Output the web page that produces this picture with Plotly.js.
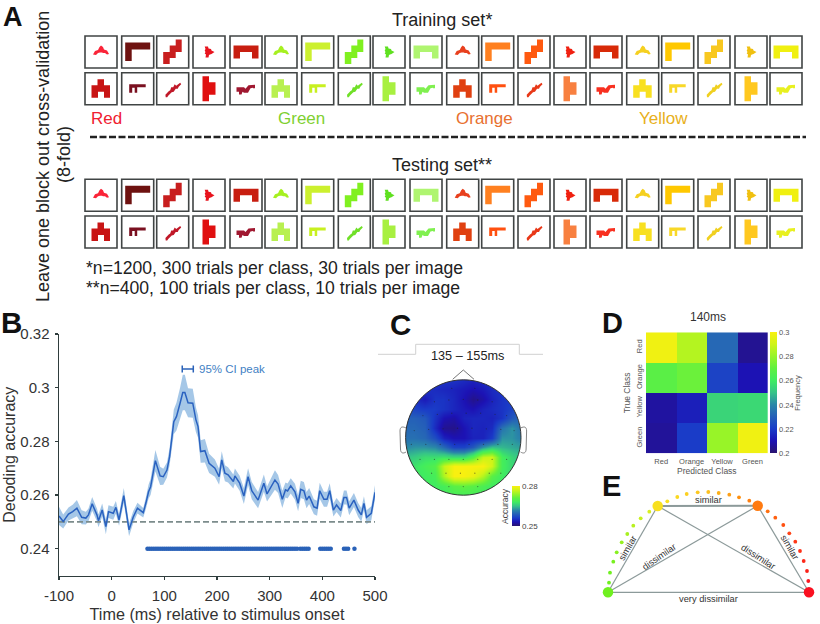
<!DOCTYPE html>
<html>
<head>
<meta charset="utf-8">
<script src="https://cdn.plot.ly/plotly-3.0.1.min.js"></script>
<style>
html, body { margin: 0; padding: 0; background: white; }
#chart { width: 820px; height: 624px; }
</style>
</head>
<body>
<div id="chart"></div>
<script>
// Panel B - decoding accuracy over time
const timeMs = [-100,-92,-82,-74,-66,-57,-49,-44,-37,-28,-25,-18,-11,-6,3,8,14,23,33,41,49,60,65,70,74,83,92,98,105,110,
    118,123,130,135,139,145,154,160,164,169,177,185,196,204,209,215,221,231,234,243,251,259,266,278,289,295,310,316,324,330,
    334,340,348,354,359,365,370,375,384,390,395,403,409,414,421,427,435,441,446,451,460,468,474,479,484,493,500];
const accuracy = [.2522,.2501,.2529,.2538,.2551,.2517,.2514,.2526,.2567,.2526,.2504,.2544,.2482,.2538,.2532,.2554,.2507,.2598,.2470,.2518,
    .2551,.2534,.2570,.2612,.2631,.2728,.2671,.2668,.2693,.2743,.2873,.2892,.2943,.2982,.2982,.2944,.2942,.2880,.2855,.2762,
    .2765,.2718,.2700,.2668,.2731,.2681,.2675,.2650,.2671,.2644,.2596,.2668,.2616,.2581,.2644,.2604,.2656,.2641,.2584,.2619,
    .2615,.2634,.2612,.2569,.2621,.2616,.2581,.2596,.2556,.2551,.2616,.2584,.2584,.2616,.2544,.2563,.2542,.2591,.2591,.2551,
    .2581,.2544,.2526,.2569,.2517,.2532,.2610];
const accuracyHalfWidth = [.0034,.0026,.0024,.0026,.0030,.0026,.0024,.0024,.0026,.0024,.0024,.0024,.0028,.0024,.0024,.0024,.0022,.0028,.0024,.0022,
    .0020,.0018,.0022,.0026,.0030,.0040,.0034,.0030,.0028,.0032,.0046,.0052,.0058,.0066,.0066,.0054,.0054,.0046,.0042,.0042,
    .0044,.0036,.0032,.0030,.0032,.0030,.0028,.0026,.0028,.0028,.0030,.0032,.0032,.0030,.0032,.0028,.0036,.0034,.0032,.0028,
    .0028,.0028,.0030,.0030,.0032,.0032,.0030,.0030,.0028,.0028,.0030,.0028,.0028,.0028,.0024,.0026,.0026,.0026,.0026,.0026,
    .0026,.0026,.0026,.0026,.0026,.0026,.0026];
const significantMs = [68,72,76,80,84,88,92,96,100,104,108,112,116,120,124,128,132,136,140,144,148,152,156,160,164,168,172,176,180,184,
    188,192,196,200,204,208,212,216,220,224,228,232,236,240,244,248,252,256,260,264,268,272,276,280,284,288,292,296,300,304,
    308,312,316,320,324,328,332,336,340,344,348,352,358,362,366,370,374,396,400,404,408,412,416,441,445,449,461];
const peakCiMs = [134, 155];

// Panel C - scalp map, rows from front of head to back
const topoAxis = [-1,-0.833,-0.667,-0.5,-0.333,-0.167,0,0.167,0.333,0.5,0.667,0.833,1];
const topoAccuracy = [
    [.2560,.2560,.2560,.2560,.2554,.2554,.2548,.2542,.2548,.2554,.2560,.2560,.2560],
    [.2560,.2554,.2554,.2548,.2545,.2542,.2536,.2530,.2536,.2548,.2554,.2560,.2560],
    [.2560,.2548,.2536,.2554,.2554,.2545,.2530,.2512,.2524,.2542,.2554,.2560,.2566],
    [.2575,.2566,.2560,.2560,.2554,.2545,.2536,.2530,.2542,.2548,.2554,.2566,.2584],
    [.2590,.2590,.2584,.2554,.2530,.2524,.2542,.2545,.2545,.2542,.2554,.2584,.2596],
    [.2596,.2596,.2590,.2548,.2515,.2512,.2530,.2545,.2542,.2548,.2605,.2626,.2605],
    [.2602,.2602,.2596,.2575,.2542,.2530,.2530,.2542,.2542,.2560,.2626,.2626,.2614],
    [.2620,.2626,.2626,.2620,.2596,.2566,.2566,.2584,.2626,.2650,.2644,.2638,.2632],
    [.2650,.2656,.2668,.2668,.2674,.2668,.2668,.2700,.2764,.2770,.2686,.2662,.2650],
    [.2665,.2674,.2686,.2698,.2764,.2800,.2800,.2800,.2800,.2770,.2686,.2665,.2656],
    [.2665,.2674,.2680,.2686,.2752,.2800,.2800,.2790,.2755,.2704,.2680,.2665,.2656],
    [.2665,.2674,.2680,.2680,.2686,.2704,.2710,.2704,.2692,.2680,.2674,.2665,.2656],
    [.2665,.2674,.2680,.2680,.2680,.2686,.2686,.2686,.2680,.2674,.2665,.2656,.2656]
];
const electrodeX = [-0.2,0.2,-0.5,-0.25,0,0.25,0.5,-0.7,-0.45,-0.2,0.05,0.3,0.55,0.75,-0.85,-0.6,-0.35,-0.1,0.15,0.4,0.65,0.88,
    -0.9,-0.65,-0.4,-0.15,0.1,0.35,0.6,0.85,-0.75,-0.5,-0.25,0,0.25,0.5,0.75,-0.55,-0.3,-0.05,0.2,0.45,0.65,-0.25,0,0.25];
const electrodeY = [0.85,0.85,0.62,0.65,0.66,0.65,0.62,0.38,0.4,0.42,0.42,0.42,0.4,0.38,0.12,0.14,0.15,0.16,0.16,0.15,0.14,0.12,
    -0.12,-0.12,-0.12,-0.12,-0.12,-0.12,-0.12,-0.12,-0.38,-0.38,-0.38,-0.38,-0.38,-0.38,-0.38,-0.62,-0.62,-0.62,-0.62,-0.62,-0.62,-0.85,-0.85,-0.85];

// Panel D - confusion matrix at 140 ms
const classNames = ['Red', 'Orange', 'Yellow', 'Green'];
const confusion = [
    [.298, .285, .232, .205],
    [.268, .272, .222, .210],
    [.207, .213, .254, .255],
    [.206, .220, .280, .298]
];

// Panel A - stimuli, colours listed box by box
const topRowColors = ['#fa2438','#6e1210','#c81e1e','#e8141e','#c81e10','#a6f020','#ccf02e','#80f020','#5fe020','#aff570',
    '#e8401e','#ff8020','#ff5a10','#f02010','#d82a08','#f5d020','#ffc800','#f8c820','#f0c010','#f0f010'];
const bottomRowColors = ['#c81414','#7a1020','#c01828','#e01010','#a01830','#b8f050','#c8f020','#70e028','#a8f040','#80f050',
    '#e04010','#ff5010','#e83818','#f88040','#f83020','#f8e020','#f8d828','#f0d020','#ffc820','#e8f020'];
const boxLeft = [85,121.7,156.7,193,230,265,301.7,338.3,373,410,446.7,481.7,518,554,590,626.7,661.7,698,735,770];
const topGlyphs = [
    [[8,18.5],[10,15],[13,14],[14.5,11],[16,9.5],[18,11],[19,13.5],[22,14.5],[24,18],[22,18.5],[20,17],[18,17],[17,16.5],[15,16.5],[13,17],[11,19]],
    [[3.5,6.5],[28.5,6.5],[28.5,13.5],[10,13.5],[10,25],[3.5,25]],
    [[19,3.5],[25,3.5],[25,16],[19,16],[19,22],[13,22],[13,28],[6.5,28],[6.5,16],[13,16],[13,9.5],[19,9.5]],
    [[11.7,10.5],[15,10.5],[15.5,12.5],[18,13],[18.5,14.5],[21.5,16],[18.5,18],[17,18.5],[16,19],[15.5,21.5],[12.5,21.5],[13,18.5],[11.7,17.5],[12.5,16],[11.7,14.5],[12.5,13]],
    [[3.5,9.5],[28.5,9.5],[28.5,22.5],[22,22.5],[22,16],[10,16],[10,22.5],[3.5,22.5]]
];
const bottomGlyphs = [
    [[12.5,6.5],[19,6.5],[19,12.5],[25,12.5],[25,25],[19,25],[19,19],[13,19],[13,25],[6.5,25],[6.5,12.5],[12.5,12.5]],
    [[7.5,11.5],[24,11.5],[24,14.5],[15.5,14.5],[15.5,20],[13,20],[13,15],[10.5,15],[10.5,20],[7.5,20]],
    [[8.7,22],[12,18.5],[13.5,17.5],[14.5,14.5],[16.5,14.5],[18,11.5],[19.5,13],[23.5,10],[24.5,11.5],[22,14],[21,16],[19,16],[17,19],[15,19.5],[11.5,23],[10.5,24.5],[9,24.5]],
    [[9.5,3.5],[16,3.5],[16,9.5],[22.5,9.5],[22.5,22],[16,22],[16,28.5],[9.5,28.5]],
    [[6.5,14.5],[14,14.5],[15.5,16],[18.5,12.5],[25,12],[25,15.5],[23,15.5],[23,15],[20.5,15.5],[18,20],[14,20],[12.5,19],[11.5,21.8],[9,21.8],[9,19],[6.5,19]]
];

// Panel E - schematic nodes and dotted arc, page pixels
const nodeX = [608, 657.7, 757.7, 809];
const nodeY = [592.3, 506, 505.7, 592.3];
const nodeColors = ['#70f020', '#f8e020', '#ff7a10', '#fa1020'];
const arcX = [609,610,613.3,616.7,621.7,627.3,633.3,640.7,649.3,667.3,677.3,686.7,697.7,708.3,718.7,729.3,739,749.3,
    767.7,775.3,783.3,789.3,795.3,800,803.7,807,808.3];
const arcY = [582.7,572.7,561.7,552.3,542.3,534,525.7,518.3,511.7,501.3,497,494,492.3,492,493,494.7,497.3,500.7,
    511.3,517.7,525,533.3,541.7,551,561,571,581];
const arcColors = ['#70f020','#70f020','#78f020','#88f020','#98f020','#a8f020','#b8f020','#c8f020','#d8f020','#f8e020','#fad820','#fcd020','#fcc820','#fcc020','#fdb018','#fda018','#fe9010','#ff8010',
    '#ff7010','#ff6010','#ff5010','#ff4418','#ff3818','#fe3018','#fc2818','#fa2018','#fa1820'];

// Layout helpers - everything outside the data axes is placed in page pixels
const W = 820, H = 624;
const FONT = '"Liberation Sans", Arial, sans-serif';
function px(x) { return x / W; }
function py(y) { return 1 - y / H; }

function label(text, x, y, size, color, angle, weight) {
    let t = text;
    if (weight) t = '<b>' + text + '</b>';
    return {
        text: t, xref: 'paper', yref: 'paper', x: px(x), y: py(y),
        xanchor: 'center', yanchor: 'middle', showarrow: false,
        textangle: angle || 0,
        font: { family: FONT, size: size, color: color || '#222' }
    };
}

function polyPath(points, dx, dy) {
    return 'M' + points.map(p => (p[0] + dx) + ',' + (p[1] + dy)).join('L') + 'Z';
}

function circlePath(cx, cy, r) {
    const k = 0.5523 * r;
    return `M${cx - r},${cy} C${cx - r},${cy + k} ${cx - k},${cy + r} ${cx},${cy + r} ` +
        `C${cx + k},${cy + r} ${cx + r},${cy + k} ${cx + r},${cy} ` +
        `C${cx + r},${cy - k} ${cx + k},${cy - r} ${cx},${cy - r} ` +
        `C${cx - k},${cy - r} ${cx - r},${cy - k} ${cx - r},${cy} Z`;
}

function pagePath(path, color, width) {
    return { type: 'path', xref: 'x4', yref: 'y4', path: path, line: { color: color, width: width }, layer: 'above' };
}

function stimulusShapes(topY, bottomY) {
    const shapes = [];
    boxLeft.forEach((left, i) => {
        [topY, bottomY].forEach((boxTop, row) => {
            const glyphs = row === 0 ? topGlyphs : bottomGlyphs;
            const colors = row === 0 ? topRowColors : bottomRowColors;
            shapes.push({
                type: 'rect', xref: 'x4', yref: 'y4', x0: left, x1: left + 32, y0: boxTop, y1: boxTop + 32,
                line: { color: '#404444', width: 1.6 }, layer: 'above'
            });
            shapes.push({
                type: 'path', xref: 'x4', yref: 'y4', path: polyPath(glyphs[i % 5], left, boxTop),
                fillcolor: colors[i], line: { width: 0 }, layer: 'above'
            });
        });
    });
    return shapes;
}

const parula = [
    [0, '#2a1470'], [0.1, '#1c12b4'], [0.2, '#1a3cc8'], [0.3, '#2560b8'], [0.4, '#2a88a8'],
    [0.5, '#36c488'], [0.6, '#40ec60'], [0.7, '#60f040'], [0.8, '#98f428'], [0.9, '#d0f418'], [1, '#f8f010']
];

// Traces
const upper = accuracy.map((a, i) => a + accuracyHalfWidth[i]);
const lower = accuracy.map((a, i) => a - accuracyHalfWidth[i]);

const traces = [
    {
        x: timeMs.concat(timeMs.slice().reverse()),
        y: upper.concat(lower.slice().reverse()),
        type: 'scatter', mode: 'lines', fill: 'toself',
        fillcolor: 'rgba(66,138,204,0.48)', line: { width: 0 }, hoverinfo: 'skip', showlegend: false
    },
    {
        x: [-100, 500], y: [0.25, 0.25], type: 'scatter', mode: 'lines',
        line: { color: '#7c8c8c', width: 1.6, dash: '6px,3px' }, showlegend: false
    },
    {
        x: timeMs, y: accuracy, type: 'scatter', mode: 'lines',
        line: { color: '#2a62c0', width: 1.5 }, showlegend: false
    },
    {
        x: significantMs, y: significantMs.map(() => 0.24), type: 'scatter', mode: 'markers',
        marker: { color: '#2a62b8', size: 4.5 }, showlegend: false
    },
    {
        x: peakCiMs, y: [0.307, 0.307], type: 'scatter', mode: 'lines+markers',
        line: { color: '#2a62b8', width: 1.5 },
        marker: { symbol: 'line-ns', size: 5, line: { color: '#2a62b8', width: 1.5 } }, showlegend: false
    },
    {
        x: topoAxis, y: topoAxis.slice().reverse(), z: topoAccuracy, type: 'heatmap', xaxis: 'x2', yaxis: 'y2',
        zsmooth: 'best', zmin: 0.25, zmax: 0.28, colorscale: parula,
        colorbar: {
            x: px(511.7), xanchor: 'left', y: py(525.7), yanchor: 'bottom',
            len: 39.7, lenmode: 'pixels', thickness: 8.3, thicknessmode: 'pixels', xpad: 0, ypad: 0,
            outlinewidth: 0, ticks: '', tickvals: [0.25, 0.28], ticktext: ['0.25', '0.28'],
            tickfont: { family: FONT, size: 8, color: '#444' }
        }
    },
    {
        x: electrodeX, y: electrodeY, type: 'scatter', mode: 'markers', xaxis: 'x2', yaxis: 'y2',
        marker: { color: '#222', size: 1.3, opacity: 0.5 }, showlegend: false
    },
    {
        x: classNames, y: classNames, z: confusion, type: 'heatmap', xaxis: 'x3', yaxis: 'y3',
        zmin: 0.2, zmax: 0.3, colorscale: parula, xgap: 0, ygap: 0,
        colorbar: {
            x: px(770.3), xanchor: 'left', y: py(453.3), yanchor: 'bottom',
            len: 121, lenmode: 'pixels', thickness: 6.5, thicknessmode: 'pixels', xpad: 0, ypad: 0,
            outlinewidth: 0, ticks: '', tickvals: [0.2, 0.22, 0.24, 0.26, 0.28, 0.3],
            tickfont: { family: FONT, size: 7.5, color: '#555' }
        }
    }
];

// Panel E edges
const edges = [[0, 1, 1.2], [0, 2, 1.2], [0, 3, 1.2], [1, 2, 2], [1, 3, 1.2], [2, 3, 1.2]];
edges.forEach(e => {
    traces.push({
        x: [nodeX[e[0]], nodeX[e[1]]], y: [nodeY[e[0]], nodeY[e[1]]], type: 'scatter', mode: 'lines',
        xaxis: 'x4', yaxis: 'y4', line: { color: '#8c9a9a', width: e[2] }, showlegend: false
    });
});
traces.push({
    x: arcX, y: arcY, type: 'scatter', mode: 'markers', xaxis: 'x4', yaxis: 'y4',
    marker: { color: arcColors, size: 3.8 }, showlegend: false
});
traces.push({
    x: nodeX, y: nodeY, type: 'scatter', mode: 'markers', xaxis: 'x4', yaxis: 'y4',
    marker: { color: nodeColors, size: 10.5 }, showlegend: false
});

// Shapes
let shapes = stimulusShapes(36, 72.7).concat(stimulusShapes(179.3, 216));

shapes.push({
    type: 'line', xref: 'x4', yref: 'y4', x0: 90, x1: 806, y0: 137, y1: 137,
    line: { color: '#222', width: 2.4, dash: '7px,2.5px' }, layer: 'above'
});

// head outline: white mask outside the circle, then the rim, nose and ears
shapes.push({
    type: 'path', xref: 'x2', yref: 'y2',
    path: 'M-1.1,-1.1 L1.1,-1.1 L1.1,1.1 L-1.1,1.1 Z ' + circlePath(0, 0, 1),
    fillcolor: 'white', fillrule: 'evenodd', line: { width: 0 }, layer: 'above'
});
shapes.push({
    type: 'path', xref: 'x2', yref: 'y2', path: circlePath(0, 0, 1),
    line: { color: '#333', width: 1 }, layer: 'above'
});
shapes.push(pagePath('M452.7,379.3 L463.3,370 L474,379.3', '#666', 0.9));
shapes.push(pagePath('M406,428 C402,426 400,427 400,431 L400.5,449 C400.5,453 403,454 406,452', '#777', 0.9));
shapes.push(pagePath('M520.6,428 C524.6,426 526.6,427 526.6,431 L526.1,449 C526.1,453 523.6,454 520.6,452', '#777', 0.9));
shapes.push(pagePath('M378,354.3 L415.7,354.3 L415.7,344.3 L519.3,344.3 L519.3,354.3 L543,354.3', '#d0d0d0', 1));

// Text
const annotations = [
    label('A', 13, 16.5, 27, '#111', 0, true),
    label('B', 11, 322, 29.5, '#111', 0, true),
    label('C', 400, 324, 29.5, '#111', 0, true),
    label('D', 612, 323, 29, '#111', 0, true),
    label('E', 611, 486, 29, '#111', 0, true),
    label('Training set*', 442, 20, 18, '#222'),
    label('Testing set**', 442, 165, 18, '#222'),
    label('Red', 106, 118, 17, '#f02030'),
    label('Green', 301.7, 118, 17, '#80d030'),
    label('Orange', 484, 118, 17, '#e87030'),
    label('Yellow', 663, 118, 17, '#e8b020'),
    label('Leave one block out cross-validation', 43, 157, 18, '#222', -90),
    label('(8-fold)', 64, 155, 18, '#222', -90),
    label('*n=1200, 300 trials per class, 30 trials per image', 274, 268, 17.6, '#222'),
    label('**n=400, 100 trials per class, 10 trials per image', 273, 288, 17.6, '#222'),
    label('95% CI peak', 232, 369, 11.5, '#3f7fc4'),
    label('135 – 155ms', 467.7, 356, 12.7, '#222'),
    label('Accuracy', 505, 506, 8.5, '#444', -90),
    label('140ms', 708, 317, 12, '#333'),
    label('Frequency', 798, 392.7, 7.5, '#555', -90),
    label('similar', 708.7, 500, 9.3, '#333'),
    label('similar', 627.7, 547.7, 9.3, '#333', -60),
    label('similar', 789.3, 547.3, 9.3, '#333', 60),
    label('dissimilar', 659, 557.3, 9.3, '#333', -35),
    label('dissimilar', 758.3, 556.7, 9.3, '#333', 33),
    label('very dissimilar', 708.3, 598.7, 9.3, '#333')
];

const hidden = { visible: false, fixedrange: true };

const layout = {
    width: W, height: H, margin: { l: 0, r: 0, t: 0, b: 0 },
    paper_bgcolor: 'white', plot_bgcolor: 'rgba(0,0,0,0)',
    showlegend: false, font: { family: FONT },
    shapes: shapes, annotations: annotations,
    xaxis: {
        domain: [px(59), px(375)], range: [-100, 500], anchor: 'y',
        tickvals: [-100, 0, 100, 200, 300, 400, 500], ticktext: ['-100', '0', '100', '200', '300', '400', '500'],
        ticks: 'outside', ticklen: 3, tickwidth: 1.2, tickcolor: '#2f3d3d', ticklabelstandoff: 3,
        showline: true, linecolor: '#2f3d3d', linewidth: 1.5, showgrid: false, zeroline: false,
        tickfont: { family: FONT, size: 15, color: '#333' },
        title: { text: 'Time (ms) relative to stimulus onset', standoff: 5, font: { family: FONT, size: 16.2, color: '#333' } }
    },
    yaxis: {
        domain: [py(575.5), py(334)], range: [0.23, 0.32], anchor: 'x',
        tickvals: [0.24, 0.26, 0.28, 0.3, 0.32], ticktext: ['0.24', '0.26', '0.28', '0.3', '0.32'],
        ticks: 'outside', ticklen: 3, tickwidth: 1.2, tickcolor: '#2f3d3d', ticklabelstandoff: 2,
        showline: true, linecolor: '#2f3d3d', linewidth: 1.5, showgrid: false, zeroline: false,
        tickfont: { family: FONT, size: 15, color: '#333' },
        title: { text: 'Decoding accuracy', standoff: 0, font: { family: FONT, size: 16, color: '#333' } }
    },
    xaxis2: Object.assign({ domain: [px(463.3 - 63.47), px(463.3 + 63.47)], range: [-1.1, 1.1], anchor: 'y2' }, hidden),
    yaxis2: Object.assign({ domain: [py(437.5 + 63.47), py(437.5 - 63.47)], range: [-1.1, 1.1], anchor: 'x2' }, hidden),
    xaxis3: {
        domain: [px(646), px(767.7)], anchor: 'y3', type: 'category', categoryorder: 'array', categoryarray: classNames,
        ticks: '', showgrid: false, zeroline: false, showline: false, fixedrange: true, ticklabelstandoff: 2,
        tickfont: { family: FONT, size: 7.5, color: '#555' },
        title: { text: 'Predicted Class', standoff: 3, font: { family: FONT, size: 8.5, color: '#555' } }
    },
    yaxis3: {
        domain: [py(453.3), py(332.3)], anchor: 'x3', type: 'category', categoryorder: 'array', categoryarray: classNames,
        autorange: 'reversed', ticks: '', showgrid: false, zeroline: false, showline: false, fixedrange: true,
        ticklabelstandoff: 2,
        tickangle: -90, tickfont: { family: FONT, size: 7.5, color: '#555' },
        title: { text: 'True Class', standoff: 2, font: { family: FONT, size: 8.5, color: '#555' } }
    },
    xaxis4: Object.assign({ domain: [0, 1], range: [0, W], anchor: 'y4' }, hidden),
    yaxis4: Object.assign({ domain: [0, 1], range: [H, 0], anchor: 'x4' }, hidden)
};

Plotly.newPlot('chart', traces, layout, { displayModeBar: false, staticPlot: true });
</script>
</body>
</html>
